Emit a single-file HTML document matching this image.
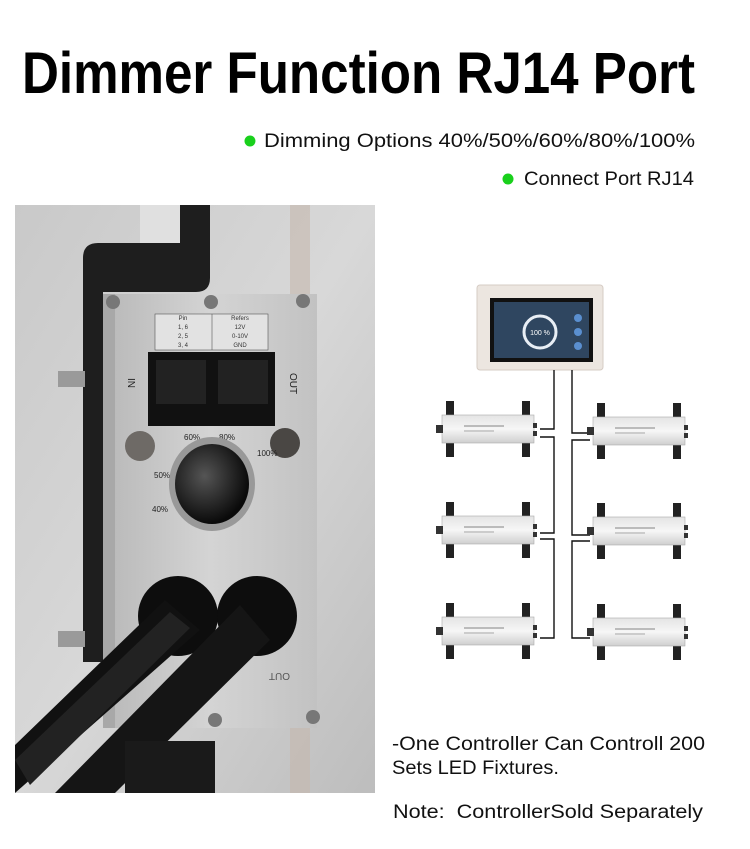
<!DOCTYPE html>
<html><head><meta charset="utf-8"><style>
html,body{margin:0;padding:0;background:#fff;}
svg{display:block;font-family:"Liberation Sans",sans-serif;}
</style></head><body>
<svg width="750" height="849" viewBox="0 0 750 849" xmlns="http://www.w3.org/2000/svg">
<defs>
<linearGradient id="bg" x1="0" y1="0" x2="1" y2="1"><stop offset="0" stop-color="#c9c9c9"/><stop offset="0.5" stop-color="#d8d8d8"/><stop offset="1" stop-color="#bdbdbd"/></linearGradient>
<linearGradient id="plate" x1="0" y1="0" x2="1" y2="0"><stop offset="0" stop-color="#b8b8b8"/><stop offset="0.5" stop-color="#d4d4d4"/><stop offset="1" stop-color="#c2c2c2"/></linearGradient>
<linearGradient id="drv" x1="0" y1="0" x2="0" y2="1"><stop offset="0" stop-color="#e4e4e4"/><stop offset="0.5" stop-color="#f6f6f6"/><stop offset="1" stop-color="#cfcfcf"/></linearGradient>
<radialGradient id="knob" cx="0.4" cy="0.4" r="0.6"><stop offset="0" stop-color="#555"/><stop offset="1" stop-color="#0a0a0a"/></radialGradient>
<g id="driver">
<rect x="4" y="-14" width="8" height="16" fill="#222"/><rect x="80" y="-14" width="8" height="16" fill="#222"/>
<rect x="4" y="26" width="8" height="16" fill="#222"/><rect x="80" y="26" width="8" height="16" fill="#222"/>
<rect x="0" y="0" width="92" height="28" fill="url(#drv)" stroke="#aaa" stroke-width="0.6"/>
<rect x="-6" y="10" width="7" height="8" fill="#333"/><rect x="91" y="8" width="4" height="5" fill="#333"/><rect x="91" y="16" width="4" height="5" fill="#333"/>
<rect x="22" y="10" width="40" height="2" fill="#bbb"/><rect x="22" y="15" width="30" height="2" fill="#ccc"/>
</g>
</defs>

<text x="22" y="93" font-size="58" font-weight="bold" textLength="673" lengthAdjust="spacingAndGlyphs" fill="#000">Dimmer Function RJ14 Port</text>

<circle cx="250" cy="141" r="5.5" fill="#19d01c"/>
<text x="264" y="147" font-size="19" textLength="431" lengthAdjust="spacingAndGlyphs" fill="#111">Dimming Options 40%/50%/60%/80%/100%</text>
<circle cx="508" cy="179" r="5.5" fill="#19d01c"/>
<text x="524" y="185" font-size="19" textLength="170" lengthAdjust="spacingAndGlyphs" fill="#111">Connect Port RJ14</text>

<!-- photo -->
<rect x="15" y="205" width="360" height="588" fill="url(#bg)"/>
<rect x="290" y="205" width="20" height="588" fill="#c4b8ae" opacity="0.6"/>
<rect x="140" y="205" width="60" height="40" fill="#e0e0e0"/>
<path d="M83 258 Q83 243 98 243 L180 243 L180 205 L210 205 L210 278 Q210 292 196 292 L103 292 L103 662 L83 662 Z" fill="#1e1e1e"/>
<rect x="58" y="371" width="27" height="16" fill="#9a9a9a"/><rect x="58" y="631" width="27" height="16" fill="#9a9a9a"/>
<path d="M103 294 L317 294 L317 728 L103 728 Z" fill="url(#plate)"/>
<rect x="103" y="294" width="12" height="434" fill="#a8a8a8"/>
<circle cx="113" cy="302" r="7" fill="#777"/><circle cx="211" cy="302" r="7" fill="#777"/><circle cx="303" cy="301" r="7" fill="#777"/>
<circle cx="215" cy="720" r="7" fill="#777"/><circle cx="313" cy="717" r="7" fill="#777"/>
<rect x="155" y="314" width="113" height="36" fill="#e2e2e2" stroke="#555" stroke-width="0.6"/>
<line x1="212" y1="314" x2="212" y2="350" stroke="#555" stroke-width="0.6"/>
<g font-size="6" fill="#333" text-anchor="middle"><text x="183" y="320">Pin</text><text x="240" y="320">Refers</text><text x="183" y="329">1, 6</text><text x="240" y="329">12V</text><text x="183" y="338">2, 5</text><text x="240" y="338">0-10V</text><text x="183" y="347">3, 4</text><text x="240" y="347">GND</text></g>
<rect x="148" y="352" width="127" height="74" fill="#111"/>
<rect x="156" y="360" width="50" height="44" fill="#222"/><rect x="218" y="360" width="50" height="44" fill="#222"/>
<text x="128" y="378" font-size="10" fill="#222" transform="rotate(90 128 378)">IN</text>
<text x="290" y="373" font-size="10" fill="#222" transform="rotate(90 290 373)">OUT</text>
<circle cx="140" cy="446" r="15" fill="#6e6a66"/><circle cx="285" cy="443" r="15" fill="#4a4744"/>
<g font-size="8" fill="#222"><text x="184" y="440">60%</text><text x="219" y="440">80%</text><text x="154" y="478">50%</text><text x="152" y="512">40%</text><text x="257" y="456">100%</text></g>
<ellipse cx="212" cy="484" rx="43" ry="47" fill="#999"/><ellipse cx="212" cy="484" rx="37" ry="40" fill="url(#knob)"/>
<circle cx="178" cy="616" r="40" fill="#0d0d0d"/><circle cx="257" cy="616" r="40" fill="#0d0d0d"/>
<path d="M15 745 L165 600 L200 630 L15 793 Z" fill="#111"/>
<path d="M55 793 L240 605 L270 640 L115 793 Z" fill="#151515"/>
<path d="M15 760 L170 612 L190 628 L30 785 Z" fill="#222"/>
<rect x="125" y="741" width="90" height="52" fill="#1a1a1a"/>
<text x="250" y="681" font-size="10" fill="#555" transform="rotate(180 270 677)">OUT</text>

<!-- controller diagram -->
<rect x="477" y="285" width="126" height="85" rx="3" fill="#ece6e0" stroke="#d6ccc4"/>
<rect x="490" y="298" width="103" height="64" fill="#111"/>
<rect x="494" y="302" width="95" height="56" fill="#2f4660"/>
<circle cx="540" cy="332" r="16" fill="none" stroke="#e8eef5" stroke-width="3"/>
<text x="540" y="335" font-size="7" fill="#fff" text-anchor="middle">100 %</text>
<circle cx="578" cy="318" r="4" fill="#5a8fd0"/><circle cx="578" cy="332" r="4" fill="#5a8fd0"/><circle cx="578" cy="346" r="4" fill="#5a8fd0"/>
<g fill="none" stroke="#111" stroke-width="1.4">
<path d="M554 370 V429 H540 M540 437 H554 V533 H540 M540 539 H554 V638 H540"/>
<path d="M572 370 V433 H590 M590 440 H572 V535 H590 M590 541 H572 V638 H590"/>
</g>
<use href="#driver" x="442" y="415"/>
<use href="#driver" x="442" y="516"/>
<use href="#driver" x="442" y="617"/>
<use href="#driver" x="593" y="417"/>
<use href="#driver" x="593" y="517"/>
<use href="#driver" x="593" y="618"/>

<g font-size="19" fill="#111">
<text x="392" y="750" textLength="313" lengthAdjust="spacingAndGlyphs">-One Controller Can Controll 200</text>
<text x="392" y="774" textLength="167" lengthAdjust="spacingAndGlyphs">Sets LED Fixtures.</text>
<text x="393" y="818" textLength="310" lengthAdjust="spacingAndGlyphs" xml:space="preserve">Note:  ControllerSold Separately</text>
</g>
</svg>
</body></html>
